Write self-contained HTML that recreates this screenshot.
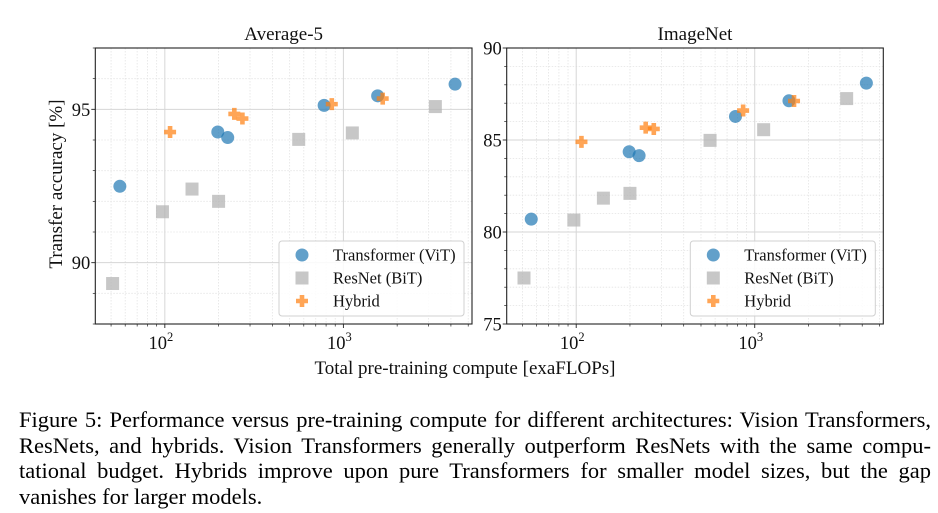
<!DOCTYPE html>
<html><head><meta charset="utf-8"><style>
body{margin:0;background:#fff;width:938px;height:513px;overflow:hidden;font-family:"Liberation Serif",serif}
#cap{position:absolute;left:19px;top:407px;width:912px;font-size:22.5px;line-height:25.5px;color:#000}
#cap div{text-align:justify;text-align-last:justify;white-space:nowrap}
#cap div.last{text-align-last:left}
</style></head><body>
<svg id="chart" width="938" height="400" style="position:absolute;left:0;top:0" font-family="Liberation Serif, serif"></svg>
<div id="cap">
<div>Figure 5: Performance versus pre-training compute for different architectures: Vision Transformers,</div>
<div>ResNets, and hybrids. Vision Transformers generally outperform ResNets with the same compu-</div>
<div>tational budget. Hybrids improve upon pure Transformers for smaller model sizes, but the gap</div>
<div class="last">vanishes for larger models.</div>
</div>
<script>
const vitX=[56,198,225,780,1555,4220];
const vitAvg=[92.49,94.26,94.08,95.13,95.44,95.82];
const vitIN=[80.7,84.36,84.15,86.28,87.13,88.09];
const resX=[51,97,142,200,562,1122,3273];
const resAvg=[89.32,91.66,92.40,92.0,94.02,94.23,95.09];
const resIN=[77.5,80.65,81.84,82.1,84.98,85.56,87.25];
const hybX=[107,245,272,861,1660];
const hybAvg=[94.26,94.85,94.70,95.17,95.35];
const hybIN=[84.9,85.67,85.6,86.6,87.12];
const yTicksAvg=[90,95];
const yTicksIN=[75,80,85,90];
const xTicks=[100,1000];
const xTickLabels=["2","3"];

const NS="http://www.w3.org/2000/svg";
const svg=document.getElementById('chart');
function mk(t,a,p){const e=document.createElementNS(NS,t);for(const k in a)e.setAttribute(k,a[k]);(p||svg).appendChild(e);return e;}

function panel(cfg){
  const g=mk('g',{});
  
  
  const L=cfg.x0,R=cfg.x1,T=48,B=324;
  const lx0=Math.log10(40.8),lx1=Math.log10(5250);
  const sx=v=>L+(Math.log10(v)-lx0)/(lx1-lx0)*(R-L);
  const sy=v=>B-(v-cfg.ymin)/(cfg.ymax-cfg.ymin)*(B-T);
  for(let d=10;d<=1000;d*=10)for(let m=2;m<=9;m++){const v=d*m;if(v<40.8||v>5250)continue;const x=sx(v);
    const l=mk('line',{x1:x,x2:x,y1:T,y2:B,stroke:'#e4e4e4','stroke-width':0.8,'stroke-dasharray':'1.5,1.5'},g);
    
    mk('line',{x1:x,x2:x,y1:B,y2:B+2.5,stroke:'#222','stroke-width':0.7},g);}
  for(let v=Math.ceil(cfg.ymin);v<=cfg.ymax;v++){if(v%5===0)continue;const y=sy(v);
    const l=mk('line',{x1:L,x2:R,y1:y,y2:y,stroke:'#e4e4e4','stroke-width':0.8,'stroke-dasharray':'1.5,1.5'},g);
    
    mk('line',{x1:L-2.5,x2:L,y1:y,y2:y,stroke:'#222','stroke-width':0.7},g);}
  xTicks.forEach((v,i)=>{const x=sx(v);
    const l=mk('line',{x1:x,x2:x,y1:T,y2:B,stroke:'#d6d6d6','stroke-width':1},g);
    
    mk('line',{x1:x,x2:x,y1:B,y2:B+4,stroke:'#222','stroke-width':0.9},g);
    const t=mk('text',{x:x-4,y:B+25,'font-size':18.5,'text-anchor':'middle',fill:'#111'},g);
    t.textContent='10';const s=mk('tspan',{dy:-8,'font-size':12.5},t);s.textContent=xTickLabels[i];
    });
  cfg.yt.forEach(v=>{const y=sy(v);
    if(v>cfg.ymin&&v<cfg.ymax){const l=mk('line',{x1:L,x2:R,y1:y,y2:y,stroke:'#d6d6d6','stroke-width':1},g);
    }
    mk('line',{x1:L-4,x2:L,y1:y,y2:y,stroke:'#222','stroke-width':0.9},g);
    const t=mk('text',{x:L-5,y:y+6.5,'font-size':18.5,'text-anchor':'end',fill:'#111'},g);t.textContent=v;
    });
  const fr=mk('rect',{x:L,y:T,width:R-L,height:B-T,fill:'none',stroke:'#222','stroke-width':1.1},g);
  
  const tt=mk('text',{x:(L+R)/2,y:T-8,'font-size':19,'text-anchor':'middle',fill:'#111'},g);tt.textContent=cfg.title;
  
  const sq=(x,y)=>{const e=mk('rect',{x:x-6.5,y:y-6.5,width:13,height:13,fill:'#b4b4b4','fill-opacity':0.75},g);};
  const ci=(x,y)=>{const e=mk('circle',{cx:x,cy:y,r:6.5,fill:'#1f77b4','fill-opacity':0.7},g);};
  const pl=(x,y)=>{const e=mk('path',{d:`M${x-2.3},${y-6}h4.6v3.7h3.7v4.6h-3.7v3.7h-4.6v-3.7h-3.7v-4.6h3.7z`,fill:'#ff7f0e','fill-opacity':0.7},g);};
  resX.forEach((v,i)=>sq(sx(v),sy(cfg.res[i])));
  vitX.forEach((v,i)=>ci(sx(v),sy(cfg.vit[i])));
  hybX.forEach((v,i)=>pl(sx(v),sy(cfg.hyb[i])));
  const lg=mk('g',{},g);
  const lx=R-193;
  mk('rect',{x:lx,y:241,width:185,height:75,rx:3,fill:'#fff','fill-opacity':0.85,stroke:'#d0d0d0'},lg);
  const names=['Transformer (ViT)','ResNet (BiT)','Hybrid'];
  [ci,sq,pl].forEach((f,i)=>{const y=255+i*23;f(lx+23,y);
    const t=mk('text',{x:lx+54,y:y+5.5,'font-size':16.5,fill:'#111'},lg);t.textContent=names[i];
    });
}
panel({name:'average-5-panel',title:'Average-5',x0:95.3,x1:472,ymin:88,ymax:97,yt:yTicksAvg,vit:vitAvg,res:resAvg,hyb:hybAvg});
panel({name:'imagenet-panel',title:'ImageNet',x0:506.7,x1:883.3,ymin:75,ymax:90,yt:yTicksIN,vit:vitIN,res:resIN,hyb:hybIN});
const yl=mk('text',{x:0,y:0,'font-size':19,'text-anchor':'middle',fill:'#111',transform:'translate(62,184) rotate(-90)'});
yl.textContent='Transfer accuracy [%]';
const xl=mk('text',{x:465,y:374,'font-size':19,'text-anchor':'middle',fill:'#111'});
xl.textContent='Total pre-training compute [exaFLOPs]';
</script>
</body></html>
